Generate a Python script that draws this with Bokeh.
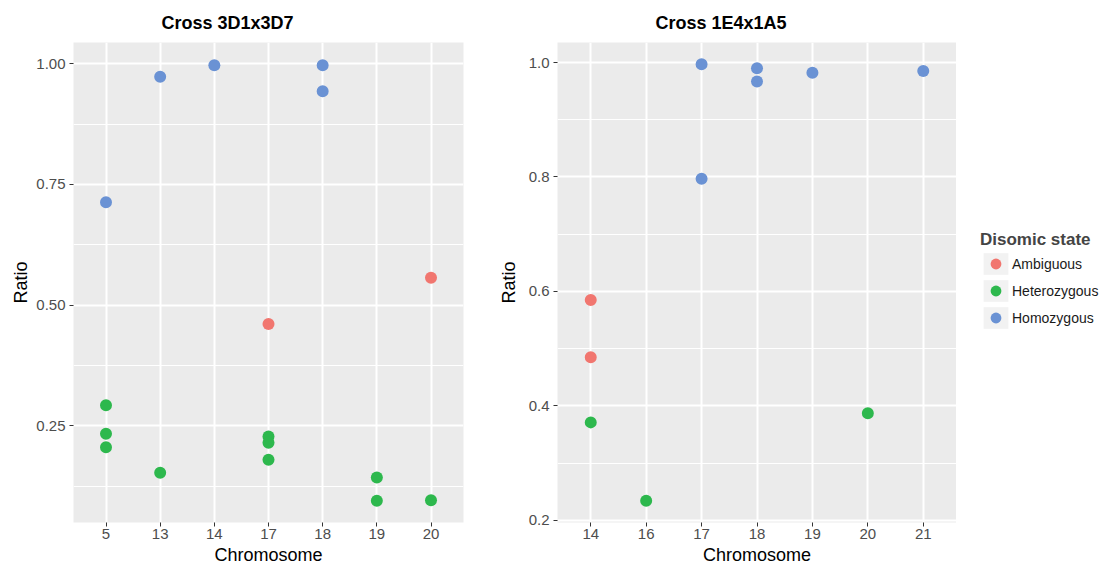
from bokeh.plotting import figure
from bokeh.models import (ColumnDataSource, FixedTicker, Legend, LegendItem, Range1d, FactorRange)
from bokeh.layouts import row
from bokeh.embed import file_html
from bokeh.resources import INLINE

# Panel 1 data: Cross 3D1x3D7
chrom1 = ["5", "5", "5", "5", "13", "13", "14", "17", "17", "17", "17", "18", "18", "19", "19", "20", "20"]
ratio1 = [0.713, 0.293, 0.234, 0.206, 0.973, 0.153, 0.997, 0.461, 0.228, 0.215, 0.180, 0.997, 0.943, 0.143, 0.095, 0.557, 0.096]
state1 = ["Homozygous", "Heterozygous", "Heterozygous", "Heterozygous", "Homozygous", "Heterozygous", "Homozygous",
          "Ambiguous", "Heterozygous", "Heterozygous", "Heterozygous", "Homozygous", "Homozygous",
          "Heterozygous", "Heterozygous", "Ambiguous", "Heterozygous"]
cats1 = ["5", "13", "14", "17", "18", "19", "20"]

# Panel 2 data: Cross 1E4x1A5
chrom2 = ["14", "14", "14", "16", "17", "17", "18", "18", "19", "20", "21"]
ratio2 = [0.585, 0.485, 0.371, 0.234, 0.997, 0.797, 0.990, 0.967, 0.982, 0.387, 0.985]
state2 = ["Ambiguous", "Ambiguous", "Heterozygous", "Heterozygous", "Homozygous", "Homozygous",
          "Homozygous", "Homozygous", "Homozygous", "Heterozygous", "Homozygous"]
cats2 = ["14", "16", "17", "18", "19", "20", "21"]

states = ["Ambiguous", "Heterozygous", "Homozygous"]
colors = {"Ambiguous": "#F1766F", "Heterozygous": "#2DB84D", "Homozygous": "#6A92D4"}

yt1 = [0.25, 0.50, 0.75, 1.00]
ym1 = [0.125, 0.375, 0.625, 0.875]
yt2 = [0.2, 0.4, 0.6, 0.8, 1.0]
ym2 = [0.3, 0.5, 0.7, 0.9]

FONT = "Liberation Sans"
H = 567


def make_panel(title, cats, chrom, ratio, state, yrange, yticks, yminor, fmt, width, left_border,
               right_border, title_off, ylab_standoff):
    p = figure(x_range=FactorRange(*cats, range_padding=0.1, range_padding_units="absolute"),
               y_range=Range1d(*yrange),
               width=width, height=H,
               min_border_left=left_border, min_border_right=right_border,
               min_border_top=34, min_border_bottom=40,
               output_backend="svg", toolbar_location=None, title=title)
    p.background_fill_color = "#EBEBEB"
    p.border_fill_color = "white"
    p.outline_line_color = None
    p.title.align = "left"
    p.title.offset = title_off
    p.title.text_font = FONT
    p.title.text_font_style = "bold"
    p.title.text_font_size = "18px"
    p.title.text_color = "black"
    p.title.standoff = 20

    for ax in (p.xaxis[0], p.yaxis[0]):
        ax.axis_line_color = None
        ax.major_tick_line_color = "#333333"
        ax.major_tick_line_width = 1
        ax.major_tick_in = 0
        ax.major_tick_out = 4
        ax.minor_tick_line_color = None
        ax.major_label_text_font = FONT
        ax.major_label_text_font_size = "15px"
        ax.major_label_text_color = "#4D4D4D"
        ax.major_label_text_line_height = 0.9
        ax.axis_label_text_font = FONT
        ax.axis_label_text_font_size = "18px"
        ax.axis_label_text_font_style = "normal"
        ax.axis_label_text_color = "black"
        ax.axis_label_text_line_height = 0.9
    p.xaxis.axis_label = "Chromosome"
    p.yaxis.axis_label = "Ratio"
    p.xaxis.major_label_standoff = 2
    p.yaxis.major_label_standoff = 4
    p.xaxis.axis_label_standoff = 3
    p.yaxis.axis_label_standoff = ylab_standoff
    p.yaxis.ticker = FixedTicker(ticks=yticks, minor_ticks=yminor)
    p.yaxis.major_label_overrides = {t: fmt.format(t) for t in yticks}

    p.xgrid.grid_line_color = "white"
    p.xgrid.grid_line_width = 2
    p.ygrid.grid_line_color = "white"
    p.ygrid.grid_line_width = 2
    p.ygrid.minor_grid_line_color = "white"
    p.ygrid.minor_grid_line_width = 1

    sources = {}
    for s in states:
        xs = [c for c, st in zip(chrom, state) if st == s]
        ys = [r for r, st in zip(ratio, state) if st == s]
        src = ColumnDataSource(dict(x=xs, y=ys))
        p.scatter("x", "y", source=src, size=12, fill_color=colors[s], line_color=None)
        sources[s] = src
    return p, sources


p1, s1 = make_panel("Cross 3D1x3D7", cats1, chrom1, ratio1, state1, (0.05, 1.044), yt1, ym1, "{:.2f}",
                    472, 73, 9, 88, 2)
p2, s2 = make_panel("Cross 1E4x1A5", cats2, chrom2, ratio2, state2, (0.196, 1.035), yt2, ym2, "{:.1f}",
                    484, 85, 0, 98, 7)

# Legend holder panel
p3 = figure(x_range=FactorRange(*cats2), y_range=Range1d(0.196, 1.035), width=145, height=H,
            x_axis_type=None, y_axis_type=None, min_border=0,
            output_backend="svg", toolbar_location=None)
p3.outline_line_color = None
p3.background_fill_color = "white"
p3.border_fill_color = "white"

items = []
for s in states:
    bg = p3.rect("x", "y", width=0.5, height=0.05, source=s2[s], fill_color="#F2F2F2",
                 line_color=None, visible=False)
    dot = p3.scatter("x", "y", source=s2[s], size=12, fill_color=colors[s], line_color=None, visible=False)
    items.append(LegendItem(label=s, renderers=[bg, dot]))

legend = Legend(items=items, location=(24, 191), title="Disomic state",
                title_text_font=FONT, title_text_font_style="bold", title_text_font_size="17px",
                label_text_font=FONT, label_text_font_size="14px", label_text_color="#1A1A1A",
                glyph_width=31, glyph_height=27, label_height=27, spacing=0, padding=0,
                margin=0, border_line_color=None, background_fill_alpha=0,
                label_standoff=1, title_standoff=0)
p3.add_layout(legend, "center")

layout = row(p1, p2, p3)
open("out.html", "w").write(file_html(layout, INLINE))
